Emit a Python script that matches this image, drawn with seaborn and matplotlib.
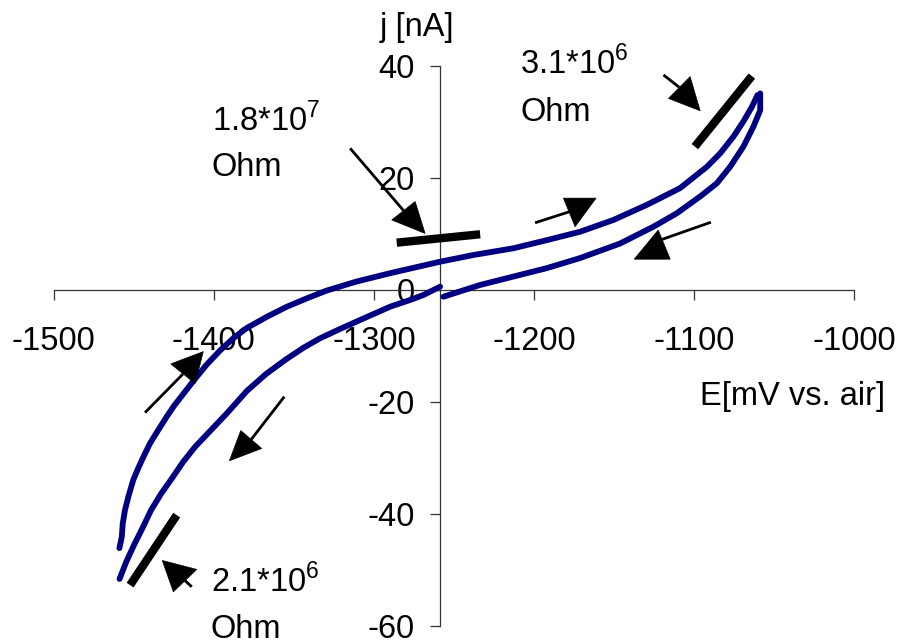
import matplotlib
matplotlib.use("Agg")
import matplotlib.pyplot as plt
import seaborn as sns
import pandas as pd
from matplotlib.patches import Polygon

# Cyclic voltammogram: potential E [mV vs. air] and current j [nA]
# Branch 1: initial cathodic sweep from the rest potential
e_start = [-1258.7, -1269.1, -1277.5, -1289.9, -1308.7, -1321.2, -1333.7, -1344.3,
           -1355.5, -1367.4, -1379.3, -1391.8, -1402.4, -1411.7, -1419.2, -1426.1,
           -1433.0, -1439.2, -1444.2, -1449.8, -1454.8, -1458.9]
j_start = [0.59, -0.89, -1.79, -2.98, -5.36, -6.96, -8.63, -10.36,
           -12.5, -15.0, -18.0, -22.0, -25.2, -28.0, -30.7, -33.6,
           -36.4, -39.3, -42.3, -45.5, -48.6, -51.6]

# Branch 2: anodic sweep
e_anodic = [-1459.0, -1457.5, -1456.9, -1455.5, -1453.4, -1450.3, -1447.2, -1444.0,
            -1439.9, -1434.7, -1429.4, -1424.9, -1419.2, -1412.8, -1404.4, -1396.1,
            -1387.8, -1379.5, -1367.0, -1354.5, -1342.0, -1329.5, -1311.0, -1289.9,
            -1258.7, -1237.9, -1212.9, -1192.1, -1171.3, -1150.5, -1129.6, -1108.8,
            -1092.1, -1083.8, -1075.5, -1069.3, -1064.0, -1060.5]
j_anodic = [-46.1, -44.1, -41.7, -39.3, -36.9, -33.9, -31.8, -29.8,
            -27.4, -25.0, -22.6, -20.7, -18.6, -16.25, -13.3, -10.8,
            -8.6, -6.8, -4.8, -3.0, -1.5, -0.1, 1.5, 3.0,
            5.05, 6.25, 7.45, 8.9, 10.4, 12.5, 15.2, 18.2,
            22.0, 24.4, 27.4, 30.1, 32.7, 34.8]

# Branch 3: cathodic return sweep
e_return = [-1058.8, -1058.8, -1063.0, -1069.3, -1077.6, -1085.9, -1096.3, -1110.9,
            -1125.5, -1146.3, -1171.3, -1192.1, -1212.9, -1233.7, -1256.6]
j_return = [35.1, 32.1, 29.2, 25.6, 22.0, 19.05, 16.7, 13.7,
            11.3, 8.3, 5.7, 3.9, 2.4, 0.9, -1.2]

x_ticks = [-1500, -1400, -1300, -1200, -1100, -1000]
y_ticks = [-60, -40, -20, 0, 20, 40]
y_axis_cross = -1258.7

# Resistance labels and the tangent bars / arrows that point at them
res_labels = ["1.8*10$^{\\mathregular{7}}$", "3.1*10$^{\\mathregular{6}}$", "2.1*10$^{\\mathregular{6}}$"]
res_label_pos = [(-1401.1, 28.3), (-1208.8, 38.6), (-1402.0, -53.9)]
ohm_pos = [(-1401.7, 20.4), (-1208.5, 30.2), (-1402.0, -62.2)]
tangent_bars = [((-1285.8, 8.45), (-1233.7, 9.95)),
                ((-1099.6, 25.6), (-1064.0, 38.2)),
                ((-1452.3, -52.7), (-1423.2, -40.2))]
# arrows: (tail, shaft end, head triangle)
arrows = [
    ((-1314.9, 25.3), (-1281.6, 14.2), [(-1268.1, 10.1), (-1288.9, 12.5), (-1274.3, 15.8)]),
    ((-1119.2, 38.4), (-1109.4, 36.2), [(-1096.3, 32.0), (-1116.1, 34.2), (-1102.6, 38.1)]),
    ((-1413.8, -53.0), (-1418.0, -51.9), [(-1432.2, -48.3), (-1410.7, -49.9), (-1425.3, -53.9)]),
    ((-1199.4, 12.0), (-1174.4, 14.3), [(-1181.7, 16.4), (-1161.3, 16.4), (-1174.4, 11.3)]),
    ((-1089.6, 12.1), (-1124.4, 8.6), [(-1137.5, 5.5), (-1115.0, 5.5), (-1122.5, 10.7)]),
    ((-1443.0, -21.9), (-1419.3, -15.0), [(-1406.6, -11.0), (-1426.9, -13.2), (-1411.7, -16.7)]),
    ((-1356.0, -19.05), (-1376.7, -26.7), [(-1390.3, -30.5), (-1370.1, -28.3), (-1383.2, -25.1)]),
]

sns.set_theme(style="white")
plt.rcParams["font.family"] = ["Liberation Sans", "DejaVu Sans"]
plt.rcParams["mathtext.fontset"] = "custom"
plt.rcParams["mathtext.rm"] = "Liberation Sans"
plt.rcParams["text.color"] = "black"
plt.rcParams["xtick.color"] = "black"
plt.rcParams["ytick.color"] = "black"

FS = 23.5
NAVY = "#000080"

fig = plt.figure(figsize=(9, 6.44), dpi=100)
ax = fig.add_axes([0.0597, 0.02795, 0.8896, 0.8696])

for e, j in [(e_start, j_start), (e_anodic, j_anodic), (e_return, j_return)]:
    df = pd.DataFrame({"E": e, "j": j})
    sns.lineplot(data=df, x="E", y="j", sort=False, estimator=None, ax=ax,
                 color=NAVY, linewidth=4.2, zorder=3)

ax.set_xlim(-1500, -1000)
ax.set_ylim(-60, 40)
ax.set_xticks(x_ticks)
ax.set_yticks(y_ticks)
ax.set_xticklabels([str(v) for v in x_ticks])
ax.set_yticklabels([str(v) for v in y_ticks])
ax.set_xlabel("")
ax.set_ylabel("")

for s in ["top", "right"]:
    ax.spines[s].set_visible(False)
ax.spines["left"].set_position(("data", y_axis_cross))
ax.spines["bottom"].set_position(("data", 0))
for s in ["left", "bottom"]:
    ax.spines[s].set_color("#333333")
    ax.spines[s].set_linewidth(0.9)

ax.tick_params(axis="x", direction="out", length=7.2, width=0.9, color="#333333",
               labelsize=FS, pad=19, labelcolor="black", bottom=True)
ax.tick_params(axis="y", direction="out", length=7.2, width=0.9, color="#333333",
               labelsize=FS, pad=11, labelcolor="black", left=True)
ax.patch.set_alpha(0)
ax.grid(False)

# axis titles
ax.text(-1296.2, 45.4, "j [nA]", fontsize=FS, color="black", ha="left", va="baseline", clip_on=False)
ax.text(-1096.3, -20.5, "E[mV vs. air]", fontsize=FS, color="black", ha="left", va="baseline",
        clip_on=False)

# resistance annotations
for lab, (x, y) in zip(res_labels, res_label_pos):
    ax.text(x, y, lab, fontsize=FS, color="black", ha="left", va="baseline", clip_on=False)
for (x, y) in ohm_pos:
    ax.text(x, y, "Ohm", fontsize=FS, color="black", ha="left", va="baseline", clip_on=False)

for (p0, p1) in tangent_bars:
    ax.plot([p0[0], p1[0]], [p0[1], p1[1]], color="black", linewidth=6.0,
            solid_capstyle="butt", zorder=4, clip_on=False)

for tail, end, tri in arrows:
    ax.plot([tail[0], end[0]], [tail[1], end[1]], color="black", linewidth=2.0,
            solid_capstyle="butt", zorder=4, clip_on=False)
    ax.add_patch(Polygon(tri, closed=True, facecolor="black", edgecolor="black",
                         linewidth=0.5, zorder=5, clip_on=False))

fig.savefig("out.png", dpi=100)
